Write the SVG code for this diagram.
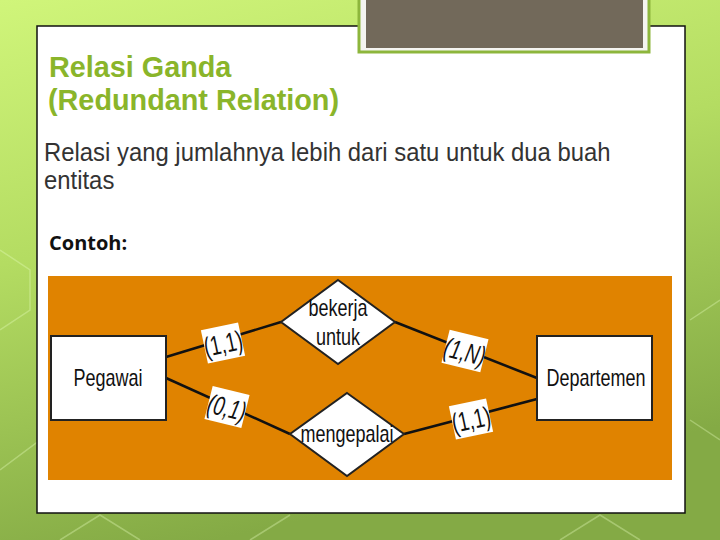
<svg xmlns="http://www.w3.org/2000/svg" width="720" height="540" viewBox="0 0 720 540">
<defs>
<linearGradient id="bg" x1="0" y1="0" x2="0.3" y2="1">
<stop offset="0" stop-color="#d0f57a"/>
<stop offset="0.45" stop-color="#b4dc62"/>
<stop offset="1" stop-color="#84aa45"/>
</linearGradient>
<style>
.ent{fill:#fff;stroke:#222;stroke-width:2}
.rel{fill:#fff;stroke:#222;stroke-width:2}
.conn line{stroke:#111;stroke-width:2.5}
.lbl{fill:#fff}
.dt{font-family:"Liberation Sans",Arial,sans-serif;font-size:24px;fill:#111;text-anchor:middle}
.ct{font-size:27px}
.hex{fill:none;stroke:#e8ffc0;stroke-opacity:0.35;stroke-width:1.5}
</style>
</defs>
<rect x="0" y="0" width="720" height="540" fill="url(#bg)"/>
<g class="hex">
<polyline points="0,330 30,310 30,270 0,250"/>
<polyline points="0,470 40,440 40,400"/>
<polyline points="690,320 720,300"/>
<polyline points="690,420 720,440"/>
<polyline points="60,540 100,515 140,540"/>
<polyline points="560,540 600,515 640,540"/>
<polyline points="250,540 290,515"/>
</g>
<rect x="37" y="26" width="648" height="487" fill="#fff" stroke="#111" stroke-width="1.5"/>
<g id="header-box">
<rect x="359" y="-2" width="290" height="54" fill="#f4f4f0" stroke="#8db63c" stroke-width="3"/>
<rect x="366" y="-2" width="277" height="50" fill="#72695a"/>
</g>
<g id="title" font-family="'Liberation Sans',Arial,sans-serif" font-weight="bold" font-size="30" fill="#8ab52a">
<text transform="translate(49,77) scale(0.96,1)">Relasi Ganda</text>
<text transform="translate(48,110) scale(0.96,1)">(Redundant Relation)</text>
</g>
<g id="body" font-family="'Liberation Sans',Arial,sans-serif" font-size="25" fill="#333">
<text transform="translate(44,161) scale(0.955,1)">Relasi yang jumlahnya lebih dari satu untuk dua buah</text>
<text transform="translate(44,189) scale(0.955,1)">entitas</text>
</g>
<text id="contoh" x="49" y="250" font-family="'Open Sans','Noto Sans',sans-serif" font-weight="bold" font-size="20" fill="#111">Contoh:</text>
<rect x="48" y="276" width="624" height="204" fill="#e08300"/>
<g class="conn" id="connectors">
<line x1="166" y1="357" x2="281" y2="322"/>
<line x1="166" y1="378" x2="290" y2="434"/>
<line x1="395" y1="322" x2="537" y2="378"/>
<line x1="404" y1="434" x2="537" y2="399"/>
</g>
<g id="pegawai">
<rect class="ent" x="51" y="336" width="115" height="84"/>
<text class="dt" transform="translate(108,386) scale(0.75,1)">Pegawai</text>
</g>
<g id="departemen">
<rect class="ent" x="537" y="336" width="115" height="84"/>
<text class="dt" transform="translate(596,386) scale(0.75,1)">Departemen</text>
</g>
<g id="bekerja-untuk">
<polygon class="rel" points="338,280 395,322 338,364 281,322"/>
<text class="dt" transform="translate(338,316) scale(0.75,1)">bekerja</text>
<text class="dt" transform="translate(338,345) scale(0.75,1)">untuk</text>
</g>
<g id="mengepalai">
<polygon class="rel" points="347,393 404,434 347,476 290,434"/>
<text class="dt" transform="translate(347,442) scale(0.75,1)">mengepalai</text>
</g>
<g id="card-1">
<g transform="translate(223,343) rotate(-12)">
<rect class="lbl" x="-19" y="-17" width="38" height="34"/>
<text class="dt ct" transform="translate(0,10) scale(0.7,1)">(1,1)</text>
</g>
</g>
<g id="card-2">
<g transform="translate(227,407) rotate(14)">
<rect class="lbl" x="-19" y="-17" width="38" height="34"/>
<text class="dt ct" transform="translate(0,10) scale(0.7,1)" font-style="italic">(0,1)</text>
</g>
</g>
<g id="card-3">
<g transform="translate(465,351) rotate(14)">
<rect class="lbl" x="-20" y="-17" width="40" height="34"/>
<text class="dt ct" transform="translate(0,10) scale(0.7,1)" font-style="italic">(1,N)</text>
</g>
</g>
<g id="card-4">
<g transform="translate(471,419) rotate(-12)">
<rect class="lbl" x="-19" y="-17" width="38" height="34"/>
<text class="dt ct" transform="translate(0,10) scale(0.7,1)">(1,1)</text>
</g>
</g>
</svg>
